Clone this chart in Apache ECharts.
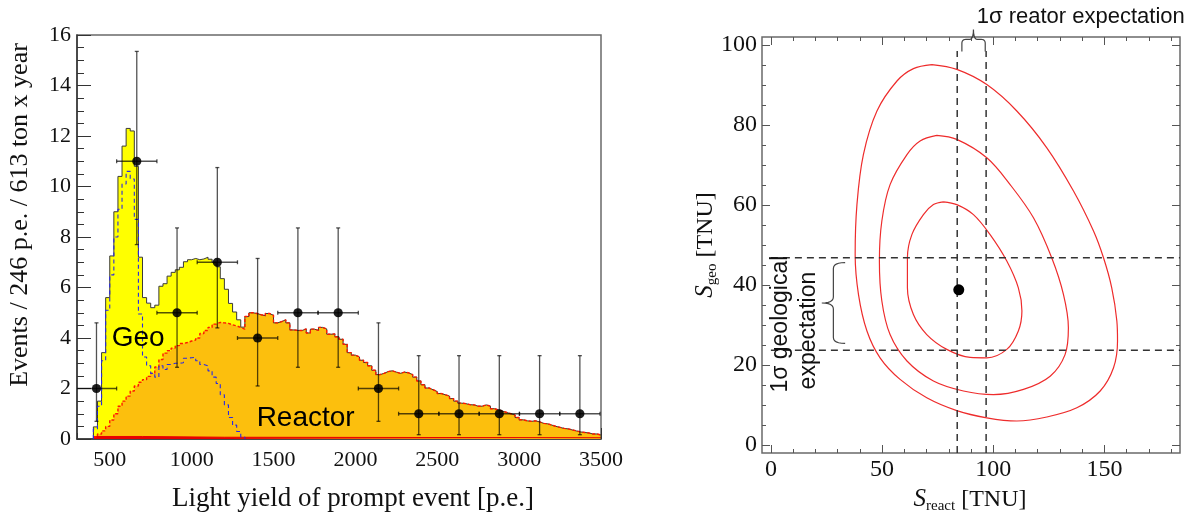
<!DOCTYPE html>
<html>
<head>
<meta charset="utf-8">
<title>Geo-neutrino spectrum and signal contours</title>
<script src="https://cdn.jsdelivr.net/npm/echarts@6.0.0/dist/echarts.min.js"></script>
<style>
  html, body { margin: 0; padding: 0; background: #fff; }
  #chart { width: 1201px; height: 512px; }
</style>
</head>
<body>
<div id="chart"></div>
<script>
// ---------- Left panel: prompt-event light-yield spectrum ----------
// Expected spectra in 25 p.e. bins, first bin starting at 400 p.e.
const binStart = 400;
const binWidth = 25;
const reactorCounts = [
  0.08, 0.2, 0.32, 0.5, 0.75, 1.0, 1.3, 1.5, 1.7, 1.9,
  2.1, 2.25, 2.35, 2.48, 2.6, 2.85, 3.15, 3.4, 3.5, 3.6,
  3.7, 3.78, 3.82, 3.88, 3.92, 4.0, 4.18, 4.3, 4.42, 4.55,
  4.62, 4.6, 4.58, 4.52, 4.48, 4.42, 4.35, 4.85, 5.0, 4.97,
  4.92, 4.88, 4.97, 4.9, 4.6, 4.65, 4.72, 4.6, 4.32, 4.3,
  4.3, 4.36, 4.2, 4.35, 4.3, 4.42, 4.36, 4.15, 4.16, 4.05,
  3.95, 3.75, 3.42, 3.32, 3.25, 3.12, 3.03, 2.9, 2.72, 2.55,
  2.6, 2.67, 2.7, 2.65, 2.6, 2.65, 2.62, 2.55, 2.45, 2.3,
  2.15, 2.02, 1.95, 1.88, 1.8, 1.75, 1.7, 1.6, 1.5, 1.42,
  1.4, 1.36, 1.35, 1.3, 1.3, 1.35, 1.3, 1.2, 1.15, 1.1,
  1.05, 1.0, 0.95, 0.85, 0.76, 0.72, 0.7, 0.72, 0.68, 0.62,
  0.6, 0.55, 0.5, 0.46, 0.42, 0.4, 0.36, 0.32, 0.28, 0.26,
  0.24, 0.2, 0.2, 0.16
];
const geoCounts = [
  0.4, 1.3, 3.1, 5.1, 6.5, 8.0, 9.1, 10.1, 10.6, 10.3,
  8.7, 4.95, 3.25, 2.9, 2.6, 2.45, 2.9, 2.75, 2.95, 3.0,
  3.0, 3.02, 3.2, 3.22, 3.23, 3.1, 2.95, 2.9, 2.7, 2.45,
  2.2, 1.75, 1.35, 0.85, 0.55, 0.3, 0.08
];
const accidentalEdges = [400, 700, 1200, 3500];
const accidentalCounts = [0.1, 0.07, 0.05];

// Observed events in 246 p.e. bins
const dataCenters = [419, 665, 911, 1157, 1403, 1649, 1895, 2141, 2387, 2633, 2879, 3125, 3371];
const dataCounts  = [2, 11, 5, 7, 4, 5, 5, 2, 1, 1, 1, 1, 1];
const dataLow     = [0.7, 7.7, 2.84, 4.4, 2.1, 2.84, 2.84, 0.7, 0.17, 0.17, 0.17, 0.17, 0.17];
const dataHigh    = [4.6, 15.35, 8.36, 10.75, 7.15, 8.36, 8.36, 4.6, 3.3, 3.3, 3.3, 3.3, 3.3];
const dataHalfWidth = 123;

// Left panel ticks
const specXMajor = [500, 1000, 1500, 2000, 2500, 3000, 3500];
const specXMinor = [300, 400, 500, 600, 700, 800, 900, 1000, 1100, 1200, 1300, 1400, 1500, 1600, 1700,
  1800, 1900, 2000, 2100, 2200, 2300, 2400, 2500, 2600, 2700, 2800, 2900, 3000, 3100, 3200, 3300, 3400, 3500];
const specYMajor = [0, 2, 4, 6, 8, 10, 12, 14, 16];
const specYMinor = [0, 0.5, 1, 1.5, 2, 2.5, 3, 3.5, 4, 4.5, 5, 5.5, 6, 6.5, 7, 7.5, 8, 8.5, 9, 9.5,
  10, 10.5, 11, 11.5, 12, 12.5, 13, 13.5, 14, 14.5, 15, 15.5, 16];

// ---------- Right panel: S_react vs S_geo ----------
const contourInner = [
  [77.6, 60.8], [83.6, 60.1], [91.1, 57.6], [98.6, 52.6], [106.1, 46.0], [111.3, 39.3], [112.9, 33.5],
  [111.3, 28.5], [106.1, 23.9], [97.1, 21.8], [89.6, 21.9], [79.1, 23.9], [70.1, 27.6], [64.1, 32.6],
  [61.4, 39.3], [61.4, 46.8], [63.4, 52.6], [68.6, 57.6], [73.1, 60.1]
];
const contourMiddle = [
  [74.6, 77.4], [83.6, 76.4], [97.1, 71.8], [107.6, 65.1], [118.1, 56.8], [126.3, 46.8], [131.6, 37.6],
  [133.8, 29.3], [132.3, 22.6], [125.6, 17.2], [113.6, 13.9], [100.1, 12.6], [86.6, 13.5], [73.1, 16.0],
  [61.2, 21.0], [53.6, 27.6], [49.9, 36.0], [48.8, 46.0], [49.9, 56.0], [53.6, 65.1], [61.2, 72.6],
  [67.1, 76.0]
];
const contourOuter = [
  [72.4, 95.1], [83.6, 93.9], [97.1, 90.1], [110.6, 83.5], [124.1, 74.3], [136.1, 63.5], [145.1, 53.5],
  [149.6, 46.8], [153.3, 39.3], [155.6, 31.0], [155.9, 26.0], [154.1, 19.3], [148.1, 13.5], [137.6, 9.3],
  [124.1, 7.0], [110.6, 6.0], [97.1, 6.8], [83.6, 8.6], [70.1, 11.8], [58.1, 16.4], [49.1, 21.8],
  [43.2, 28.5], [39.4, 37.6], [37.9, 47.6], [38.7, 60.1], [41.6, 72.6], [47.7, 83.5], [56.7, 91.0],
  [64.1, 94.1]
];
const bestFit = [84.5, 38.8];
const reactorBand = [83.8, 96.8];   // 1 sigma reactor expectation, TNU
const geoBand = [23.7, 46.8];       // 1 sigma geological expectation, TNU
const bandTop = 98.5;

// Right panel ticks
const sigXMajor = [0, 50, 100, 150];
const sigXMinor = [0, 10, 20, 30, 40, 50, 60, 70, 80, 90, 100, 110, 120, 130, 140, 150, 160, 170, 180];
const sigYMajor = [0, 20, 40, 60, 80, 100];
const sigYMinor = [0, 5, 10, 15, 20, 25, 30, 35, 40, 45, 50, 55, 60, 65, 70, 75, 80, 85, 90, 95, 100];

// ---------- helpers ----------
const SERIF = '"Liberation Serif", "Times New Roman", serif';
const SANS = '"Liberation Sans", Arial, Helvetica, sans-serif';

function makeAxis(o) {
  return {
    type: 'value',
    gridIndex: o.grid,
    position: o.position,
    min: o.min,
    max: o.max,
    axisLine: { show: !!o.line, onZero: false, lineStyle: { color: o.lineColor || '#333', width: 1.5 } },
    axisTick: {
      show: true, inside: true, length: o.tickLen, customValues: o.ticks,
      lineStyle: { color: o.tickColor || '#333', width: 1 }
    },
    axisLabel: o.labels
      ? { show: true, customValues: o.ticks, margin: o.margin, color: '#111', fontFamily: SERIF,
          fontSize: o.fontSize, formatter: (v) => String(v) }
      : { show: false },
    splitLine: { show: false },
    minorTick: { show: false }
  };
}

// histogram as a step outline; `closed` drops it to zero at both ends
function histSteps(values, closed) {
  const d = closed ? [[binStart, 0]] : [];
  values.forEach((v, i) => d.push([binStart + i * binWidth, v]));
  const end = binStart + values.length * binWidth;
  d.push([end, values[values.length - 1]]);
  if (closed) d.push([end, 0]);
  return d;
}
// reactor + geo expectation (geo contributes only in its first bins)
const totalCounts = reactorCounts.map((r, i) => r + (i < geoCounts.length ? geoCounts[i] : 0));
const accidentalSteps = accidentalCounts.map((v, i) => [accidentalEdges[i], v])
  .concat([[accidentalEdges[accidentalEdges.length - 1], accidentalCounts[accidentalCounts.length - 1]]]);

const L = { xAxisIndex: 0, yAxisIndex: 0 };
const R = { xAxisIndex: 2, yAxisIndex: 2 };

const option = {
  animation: false,
  backgroundColor: '#ffffff',
  grid: [
    { left: 77, top: 35, width: 524, height: 404, show: true, borderColor: '#6a6a6a', borderWidth: 1.5,
      backgroundColor: 'transparent', outerBoundsMode: 'none' },
    { left: 762, top: 37, width: 418, height: 416, show: true, borderColor: '#6a6a6a', borderWidth: 1.5,
      backgroundColor: 'transparent', outerBoundsMode: 'none' }
  ],
  xAxis: [
    makeAxis({ grid: 0, position: 'bottom', min: 300, max: 3500, line: true, tickLen: 11, ticks: specXMajor,
      labels: true, margin: 10, fontSize: 22 }),
    makeAxis({ grid: 0, position: 'bottom', min: 300, max: 3500, tickLen: 6, ticks: specXMinor }),
    makeAxis({ grid: 1, position: 'bottom', min: -4, max: 184, tickLen: 8, ticks: sigXMajor, tickColor: '#555',
      labels: true, margin: 5, fontSize: 24 }),
    makeAxis({ grid: 1, position: 'bottom', min: -4, max: 184, tickLen: 4, ticks: sigXMinor, tickColor: '#555' }),
    makeAxis({ grid: 1, position: 'top', min: -4, max: 184, tickLen: 8, ticks: sigXMajor, tickColor: '#555' }),
    makeAxis({ grid: 1, position: 'top', min: -4, max: 184, tickLen: 4, ticks: sigXMinor, tickColor: '#555' })
  ],
  yAxis: [
    makeAxis({ grid: 0, position: 'left', min: 0, max: 16, line: true, tickLen: 14, ticks: specYMajor,
      labels: true, margin: 6, fontSize: 22 }),
    makeAxis({ grid: 0, position: 'left', min: 0, max: 16, tickLen: 7, ticks: specYMinor }),
    makeAxis({ grid: 1, position: 'left', min: -2, max: 102, tickLen: 8, ticks: sigYMajor, tickColor: '#555',
      labels: true, margin: 5, fontSize: 24 }),
    makeAxis({ grid: 1, position: 'left', min: -2, max: 102, tickLen: 4, ticks: sigYMinor, tickColor: '#555' }),
    makeAxis({ grid: 1, position: 'right', min: -2, max: 102, tickLen: 8, ticks: sigYMajor, tickColor: '#555' }),
    makeAxis({ grid: 1, position: 'right', min: -2, max: 102, tickLen: 4, ticks: sigYMinor, tickColor: '#555' })
  ],
  series: [
    // expectation: yellow = reactor + geo, orange = reactor
    Object.assign({ id: 'totalFill', type: 'line', step: 'end', symbol: 'none', silent: true,
      data: histSteps(totalCounts, true), lineStyle: { width: 0 },
      areaStyle: { color: '#ffff00', opacity: 1 }, z: 2 }, L),
    Object.assign({ id: 'reactorFill', type: 'line', step: 'end', symbol: 'none', silent: true,
      data: histSteps(reactorCounts, true), lineStyle: { width: 0 },
      areaStyle: { color: '#fcbf0d', opacity: 1 }, z: 3 }, L),
    Object.assign({ id: 'accidental', type: 'line', step: 'end', symbol: 'none', silent: true,
      data: accidentalSteps, lineStyle: { color: '#e80000', width: 1 },
      areaStyle: { color: '#e80000', opacity: 1 }, z: 4 }, L),
    Object.assign({ id: 'totalLine', type: 'line', step: 'end', symbol: 'none', silent: true,
      data: histSteps(totalCounts, true), lineStyle: { color: '#3a3a3a', width: 1 }, z: 5 }, L),
    Object.assign({ id: 'reactorLine', type: 'line', step: 'end', symbol: 'none', silent: true,
      data: histSteps(reactorCounts, false), lineStyle: { color: '#ff1a00', width: 1.4, type: [3, 2] }, z: 6 }, L),
    Object.assign({ id: 'geoLine', type: 'line', step: 'end', symbol: 'none', silent: true,
      data: histSteps(geoCounts, true), lineStyle: { color: '#2828e6', width: 1.1, type: [4, 3] }, z: 6 }, L),
    Object.assign({
      id: 'data', type: 'custom', clip: true, z: 7, silent: true,
      data: dataCenters.map((x, i) => [x, dataCounts[i], dataLow[i], dataHigh[i]]),
      encode: { x: 0, y: 1 },
      renderItem: function (params, api) {
        const x = api.value(0), y = api.value(1), lo = api.value(2), hi = api.value(3);
        const c = api.coord([x, y]);
        const t = api.coord([x, hi]);
        const b = api.coord([x, lo]);
        const l = api.coord([x - dataHalfWidth, y]);
        const r = api.coord([x + dataHalfWidth, y]);
        const ls = { stroke: 'rgba(0,0,0,0.68)', lineWidth: 1.3 };
        const cap = 2;
        const seg = (x1, y1, x2, y2) => ({ type: 'line', shape: { x1, y1, x2, y2 }, style: ls });
        return {
          type: 'group',
          children: [
            seg(t[0], t[1], b[0], b[1]),
            seg(l[0], l[1], r[0], r[1]),
            seg(t[0] - cap, t[1], t[0] + cap, t[1]),
            seg(b[0] - cap, b[1], b[0] + cap, b[1]),
            seg(l[0], l[1] - cap, l[0], l[1] + cap),
            seg(r[0], r[1] - cap, r[0], r[1] + cap),
            { type: 'circle', shape: { cx: c[0], cy: c[1], r: 4.6 }, style: { fill: 'rgba(0,0,0,0.88)' } }
          ]
        };
      }
    }, L),

    // right panel
    Object.assign({ id: 'c68', type: 'line', smooth: 0.35, symbol: 'none', silent: true,
      data: contourInner.concat([contourInner[0]]), lineStyle: { color: '#ee2c2c', width: 1.2 }, z: 3 }, R),
    Object.assign({ id: 'c90', type: 'line', smooth: 0.35, symbol: 'none', silent: true,
      data: contourMiddle.concat([contourMiddle[0]]), lineStyle: { color: '#ee2c2c', width: 1.2 }, z: 3 }, R),
    Object.assign({ id: 'c99', type: 'line', smooth: 0.35, symbol: 'none', silent: true,
      data: contourOuter.concat([contourOuter[0]]), lineStyle: { color: '#ee2c2c', width: 1.2 }, z: 3 }, R),
    ...reactorBand.map((v, i) => Object.assign({ id: 'rb' + i, type: 'line', symbol: 'none', silent: true,
      data: [[v, -2], [v, bandTop]], lineStyle: { color: '#333', width: 1.5, type: [7, 5] }, z: 4 }, R)),
    ...geoBand.map((v, i) => Object.assign({ id: 'gb' + i, type: 'line', symbol: 'none', silent: true,
      data: [[0, v], [184, v]], lineStyle: { color: '#333', width: 1.5, type: [7, 5] }, z: 4 }, R)),
    Object.assign({ id: 'bestFit', type: 'scatter', symbol: 'circle', symbolSize: 11, silent: true,
      data: [bestFit], itemStyle: { color: '#000', opacity: 1 }, z: 6 }, R)
  ]
};

const chart = echarts.init(document.getElementById('chart'), null, { renderer: 'canvas' });
chart.setOption(option);

// ---------- titles and annotations ----------
const idxOf = (id) => option.series.findIndex((s) => s.id === id);
const specPx = (x, y) => chart.convertToPixel({ seriesIndex: idxOf('reactorLine') }, [x, y]);
const sigPx = (x, y) => chart.convertToPixel({ seriesIndex: idxOf('bestFit') }, [x, y]);

// curly braces as polylines: straight runs joined by quadratic turns
function quadPts(p0, c, p1, n) {
  const out = [];
  for (let k = 1; k <= n; k++) {
    const t = k / n, u = 1 - t;
    out.push([u * u * p0[0] + 2 * u * t * c[0] + t * t * p1[0], u * u * p0[1] + 2 * u * t * c[1] + t * t * p1[1]]);
  }
  return out;
}
function hBrace(xl, xr, xm, yEnd, yBar, yTip, r) {
  let p = [[xl, yEnd], [xl, yBar + r]];
  p = p.concat(quadPts([xl, yBar + r], [xl, yBar], [xl + r, yBar], 6));
  p.push([xm - r, yBar]);
  p = p.concat(quadPts([xm - r, yBar], [xm, yBar], [xm, yTip], 6));
  p = p.concat(quadPts([xm, yTip], [xm, yBar], [xm + r, yBar], 6));
  p.push([xr - r, yBar]);
  p = p.concat(quadPts([xr - r, yBar], [xr, yBar], [xr, yBar + r], 6));
  p.push([xr, yEnd]);
  return p;
}
function vBrace(xEnd, xBar, xTip, yt, yb, ym, r) {
  let p = [[xEnd, yt]];
  p = p.concat(quadPts([xEnd, yt], [xBar, yt], [xBar, yt + r], 6));
  p.push([xBar, ym - r]);
  p = p.concat(quadPts([xBar, ym - r], [xBar, ym], [xTip, ym], 6));
  p = p.concat(quadPts([xTip, ym], [xBar, ym], [xBar, ym + r], 6));
  p.push([xBar, yb - r]);
  p = p.concat(quadPts([xBar, yb - r], [xBar, yb], [xEnd, yb], 6));
  return p;
}

const tb1 = sigPx(85.9, 98.4), tb2 = sigPx(96.4, 101.4), tbm = sigPx(91.1, 103.9);
const lbEnd = sigPx(33.4, 45.6), lbBar = sigPx(28.1, 25.4), lbTip = sigPx(22.9, 35.5);
const geoLabel = specPx(512, 3.97);
const reactorLabel = specPx(1397, 0.84);
const topNote = sigPx(92.6, 107.1);
const vNote1 = sigPx(4.2, 13.1);
const vNote2 = sigPx(16.8, 13.9);

const subRich = (big, sub, tail) => ({
  s: { fontFamily: SERIF, fontStyle: 'italic', fontSize: big, verticalAlign: 'bottom', padding: [0, 0, 2, 0], fill: '#111' },
  sub: { fontFamily: SERIF, fontSize: sub, verticalAlign: 'bottom', fill: '#111' },
  n: { fontFamily: SERIF, fontSize: tail, verticalAlign: 'bottom', padding: [0, 0, 2, 0], fill: '#111' }
});

chart.setOption({
  graphic: { elements: [
    { type: 'text', x: 20, y: 215, rotation: Math.PI / 2, z: 100,
      style: { text: 'Events / 246 p.e. / 613 ton x year', fontFamily: SERIF, fontSize: 26, fill: '#111',
        align: 'center', verticalAlign: 'middle' } },
    { type: 'text', x: 353, y: 499, z: 100,
      style: { text: 'Light yield of prompt event [p.e.]', fontFamily: SERIF, fontSize: 27, fill: '#111',
        align: 'center', verticalAlign: 'middle' } },
    { type: 'text', x: geoLabel[0], y: geoLabel[1], z: 100,
      style: { text: 'Geo', fontFamily: SANS, fontSize: 28, fill: '#000', align: 'left', verticalAlign: 'middle' } },
    { type: 'text', x: reactorLabel[0], y: reactorLabel[1], z: 100,
      style: { text: 'Reactor', fontFamily: SANS, fontSize: 28, fill: '#000', align: 'left', verticalAlign: 'middle' } },

    { type: 'text', x: 970, y: 500, z: 100,
      style: { text: '{s|S}{sub|react}{n| [TNU]}', rich: subRich(25, 15, 24), align: 'center', verticalAlign: 'middle' } },
    { type: 'text', x: 706, y: 245, rotation: Math.PI / 2, z: 100,
      style: { text: '{s|S}{sub|geo}{n| [TNU]}', rich: subRich(25, 15, 24), align: 'center', verticalAlign: 'middle' } },

    { type: 'text', x: topNote[0], y: topNote[1], z: 100,
      style: { text: '1σ reator expectation', fontFamily: SANS, fontSize: 22, fill: '#111', align: 'left', verticalAlign: 'middle' } },
    { type: 'text', x: vNote1[0], y: vNote1[1], rotation: Math.PI / 2, z: 100,
      style: { text: '1σ geological', fontFamily: SANS, fontSize: 23, fill: '#111', align: 'left', verticalAlign: 'middle' } },
    { type: 'text', x: vNote2[0], y: vNote2[1], rotation: Math.PI / 2, z: 100,
      style: { text: 'expectation', fontFamily: SANS, fontSize: 23, fill: '#111', align: 'left', verticalAlign: 'middle' } },

    { type: 'polyline', z: 100, shape: { points: hBrace(tb1[0], tb2[0], tbm[0], tb1[1], tb2[1], tbm[1], 4) },
      style: { fill: null, stroke: '#444', lineWidth: 1.2 } },
    { type: 'polyline', z: 100, shape: { points: vBrace(lbEnd[0], lbBar[0], lbTip[0], lbEnd[1], lbBar[1], lbTip[1], 6) },
      style: { fill: null, stroke: '#444', lineWidth: 1.2 } }
  ] }
});
</script>
</body>
</html>
